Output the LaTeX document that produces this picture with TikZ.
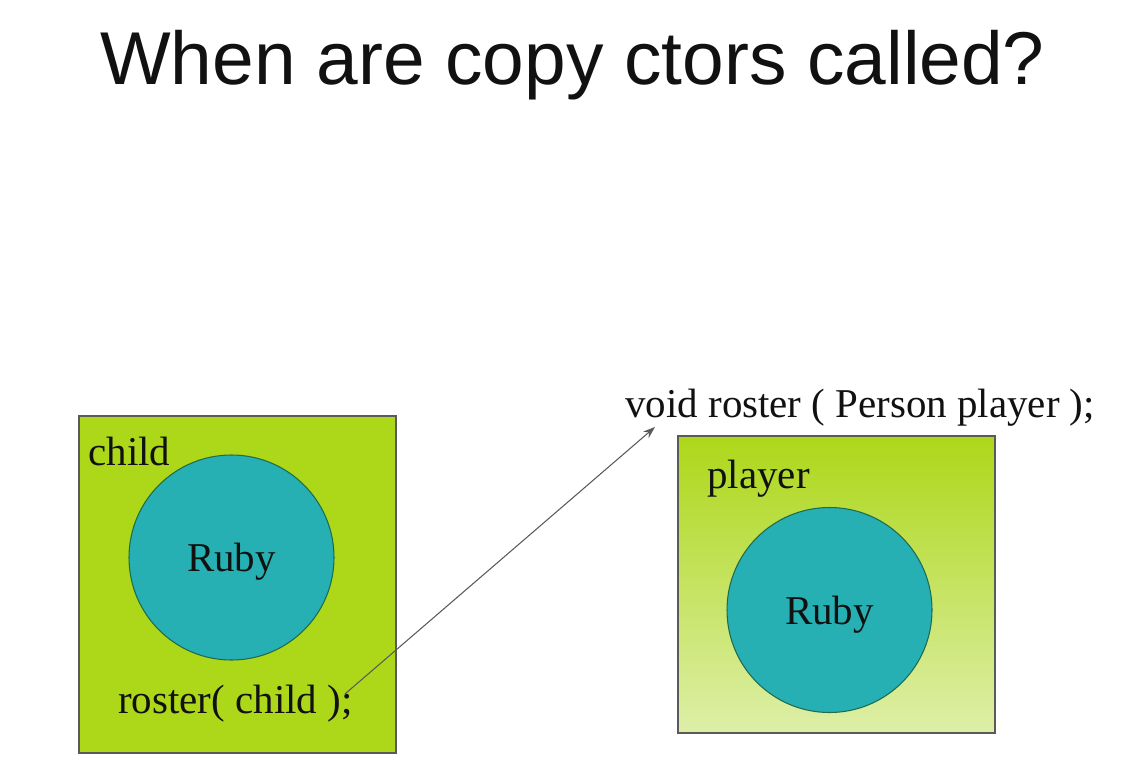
\documentclass[tikz,border=0pt]{standalone}
\usepackage{fontspec}
\setmainfont{Liberation Serif}
\newfontfamily\slidefont{Liberation Sans}
\usetikzlibrary{arrows.meta,positioning,calc}
\definecolor{SlideGreen}{HTML}{ADD719}
\definecolor{SlidePale}{HTML}{DDEFA8}
\definecolor{SlideTeal}{HTML}{26B0B3}
\definecolor{SlideEdge}{HTML}{1E6B4E}
\definecolor{SlideGray}{HTML}{5A5A5A}
\definecolor{SlideInk}{HTML}{111111}
\tikzset{
  figtitle/.style={font=\slidefont\fontsize{42.6}{50}\selectfont, text=SlideInk,
                   inner sep=0pt, anchor=base},
  varbox/.style={draw=SlideGray, fill=SlideGreen, line width=0.6pt,
                 minimum width=6.34cm, inner sep=0pt},
  varshade/.style={draw=SlideGray, top color=SlideGreen, bottom color=SlidePale,
                   line width=0.6pt, minimum width=6.34cm, inner sep=0pt},
  valcircle/.style={circle, draw=SlideEdge, fill=SlideTeal, line width=0.6pt,
                    minimum size=4.1cm, inner sep=0pt, text=SlideInk,
                    font=\fontsize{23.3}{28}\selectfont, text depth=0pt},
  codetext/.style={font=\fontsize{23.3}{28}\selectfont, text=SlideInk,
                   inner sep=0pt, anchor=base west},
  arrow/.style={-{Stealth[length=2.4mm,width=1.7mm]}, line width=0.6pt, SlideGray},
}

\begin{document}
\begin{tikzpicture}
  % page
  \fill[white] (0,0) rectangle (22.76,-15.16);
  \useasboundingbox (0,0) rectangle (22.76,-15.16);

  % title
  \node[figtitle] (title) at (11.45,-1.70) {When are copy ctors called?};

  % caller side
  \node[varbox, minimum height=6.74cm] (childbox) at (4.75,-11.69) {};
  \node[codetext] (childname) at (1.76,-9.30) {child};
  \node[valcircle] (childval) at (4.63,-11.15) {Ruby};
  \node[codetext] (call) at (2.36,-14.26) {roster( child );};

  % callee side
  \node[codetext] (sig) at (12.50,-8.34) {void roster ( Person player );};
  \node[varshade, minimum height=5.94cm] (playerbox) at (16.73,-11.69) {};
  \node[codetext] (playername) at (14.14,-9.76) {player};
  \node[valcircle] (playerval) at (16.59,-12.20) {Ruby};

  % the call passes child by value
  \coordinate (callend) at ($(call.base east)+(-0.16,0.38)$);
  \coordinate (sigstart) at ($(sig.base west)+(0.60,-0.20)$);
  \draw[arrow] (callend) -- (sigstart);

\end{tikzpicture}
\end{document}
